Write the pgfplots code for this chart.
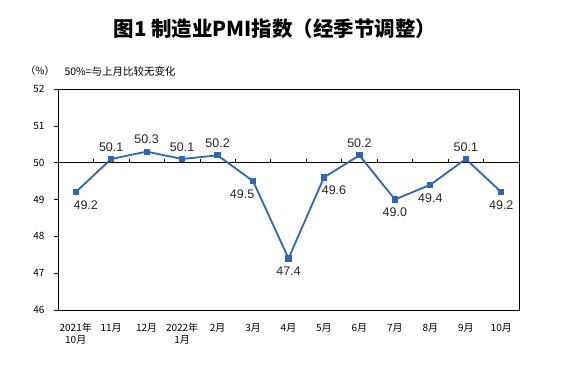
\documentclass[border=0pt]{standalone}
\usepackage{pgfplots}
\pgfplotsset{compat=1.18}
\usepackage{fontspec}
\setmainfont{Liberation Sans}
\newfontfamily\cjk{Noto Sans CJK SC}
\definecolor{pmiblue}{RGB}{47,102,181}
\begin{document}
\begin{tikzpicture}[x=1pt,y=1pt]
\useasboundingbox (0,0) rectangle (569,365);
\node[font=\cjk\bfseries\fontsize{20.5}{24}\selectfont] at (275,336) {图1 制造业PMI指数（经季节调整）};
\node[font=\cjk\fontsize{10}{11}\selectfont] at (40,294) {（\%）};
\node[font=\cjk\fontsize{10.5}{11}\selectfont, anchor=west] at (61,294) {50\%=与上月比较无变化};
\begin{axis}[
  at={(58pt,55pt)}, anchor=south west,
  scale only axis, width=461pt, height=221pt,
  xmin=-0.5, xmax=12.5, ymin=46, ymax=52,
  axis line style={black, line width=0.7pt},
  ytick={46,47,48,49,50,51,52},
  yticklabels={46,47,48,49,50,51,52},
  yticklabel style={font=\cjk\fontsize{10}{11}\selectfont, xshift=-6pt},
  y tick style={black, line width=0.6pt},
  ytick pos=left, tick align=outside, major tick length=4pt,
  xtick={0,...,12},
  xticklabels={{2021年\\10月},11月,12月,{2022年\\1月},2月,3月,4月,5月,6月,7月,8月,9月,10月},
  xticklabel style={font=\cjk\fontsize{10}{12}\selectfont, align=center, anchor=north, yshift=-6pt},
  x tick style={draw=none},
  xtick pos=bottom,
  clip=false,
]
\addplot[black, line width=0.7pt, forget plot] coordinates {(-0.5,50) (12.5,50)};
\pgfplotsinvokeforeach{0.5,1.5,...,11.5}{\draw[black, line width=0.6pt] (axis cs:#1,50) -- ([yshift=3.5pt]axis cs:#1,50);}
\addplot[pmiblue, line width=1.8pt, mark=square*, mark size=2.6pt, mark options={solid, fill=pmiblue, draw=pmiblue, line width=0pt}] coordinates {
(0,49.2) (1,50.1) (2,50.3) (3,50.1) (4,50.2) (5,49.5) (6,47.4) (7,49.6) (8,50.2) (9,49.0) (10,49.4) (11,50.1) (12,49.2)};
% labels above
\addplot[draw=none, mark=none, point meta=explicit symbolic, nodes near coords,
  every node near coord/.style={font=\fontsize{12.5}{14}\selectfont, text=black!85, anchor=south, yshift=4pt}]
  coordinates {(1,50.1)[50.1] (2,50.3)[50.3] (3,50.1)[50.1] (4,50.2)[50.2] (8,50.2)[50.2] (11,50.1)[50.1]};
% labels below
\addplot[draw=none, mark=none, point meta=explicit symbolic, nodes near coords,
  every node near coord/.style={font=\fontsize{12.5}{14}\selectfont, text=black!85, anchor=north, yshift=-5pt}]
  coordinates {(6,47.4)[47.4] (9,49.0)[49.0] (10,49.4)[49.4] (12,49.2)[49.2]};
% labels below right
\addplot[draw=none, mark=none, point meta=explicit symbolic, nodes near coords,
  every node near coord/.style={font=\fontsize{12.5}{14}\selectfont, text=black!85, anchor=north, yshift=-5pt, xshift=10pt}]
  coordinates {(0,49.2)[49.2] (7,49.6)[49.6]};
% labels below left
\addplot[draw=none, mark=none, point meta=explicit symbolic, nodes near coords,
  every node near coord/.style={font=\fontsize{12.5}{14}\selectfont, text=black!85, anchor=north, yshift=-5pt, xshift=-11pt}]
  coordinates {(5,49.5)[49.5]};
\end{axis}
\end{tikzpicture}
\end{document}
